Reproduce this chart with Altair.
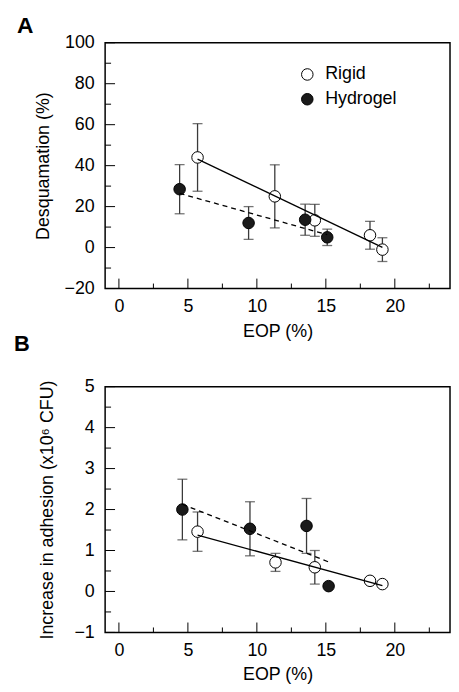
import altair as alt
import pandas as pd

FONT = "Liberation Sans"

# ---------------- data ----------------
groups = ["Rigid", "Hydrogel"]

A_rigid_x = [5.7, 11.3, 14.2, 18.2, 19.1]
A_rigid_y = [44.0, 25.0, 13.3, 6.0, -1.0]
A_rigid_err = [16.5, 15.4, 7.8, 6.8, 5.8]
A_hydro_x = [4.4, 9.4, 13.5, 15.1]
A_hydro_y = [28.5, 12.0, 13.6, 5.0]
A_hydro_err = [12.0, 8.0, 7.6, 4.0]

B_rigid_x = [5.7, 11.35, 14.2, 18.2, 19.1]
B_rigid_y = [1.46, 0.71, 0.59, 0.26, 0.18]
B_rigid_err = [0.48, 0.22, 0.41, 0.0, 0.0]
B_hydro_x = [4.6, 9.5, 13.6, 15.2]
B_hydro_y = [2.0, 1.53, 1.6, 0.13]
B_hydro_err = [0.74, 0.66, 0.67, 0.0]

x_major = [0, 5, 10, 15, 20]
x_minor = [2.5, 7.5, 12.5, 17.5, 22.5]
A_y_major = [-20, 0, 20, 40, 60, 80, 100]
A_y_minor = [-10, 10, 30, 50, 70, 90]
B_y_major = [-1, 0, 1, 2, 3, 4, 5]
B_y_minor = [-0.5, 0.5, 1.5, 2.5, 3.5, 4.5]

W, H = 348, 248
SYM = 135


def frame(rx, ry, re, hx, hy, he):
    rows = []
    for x, y, e in zip(rx, ry, re):
        rows.append({"g": "Rigid", "x": x, "y": y, "lo": y - e, "hi": y + e, "e": e})
    for x, y, e in zip(hx, hy, he):
        rows.append({"g": "Hydrogel", "x": x, "y": y, "lo": y - e, "hi": y + e, "e": e})
    return pd.DataFrame(rows)


def panel(df, ydom, ymaj, ymin, ytitle, ytp, label, lab_xy, lab_fs, legx, legy, legpad,
          xlp, xtp):
    xs = alt.Scale(domain=[-1, 24], nice=False, zero=False, padding=0)
    ys = alt.Scale(domain=ydom, nice=False, zero=False, padding=0)
    base = alt.Chart(df)

    xaxis = alt.Axis(values=x_major, tickSize=0, labelPadding=xlp, title="EOP (%)",
                     titlePadding=xtp, domain=False, grid=False)
    yaxis = alt.Axis(values=ymaj, tickSize=0, labelPadding=11, title=ytitle,
                     titlePadding=ytp, domain=False, grid=False)

    ecol = "#3a3a3a"
    eb = base.transform_filter(alt.datum.e > 0)
    bars = eb.mark_rule(color=ecol, strokeWidth=1.3).encode(
        x=alt.X("x:Q", scale=xs, axis=xaxis), y=alt.Y("lo:Q", scale=ys, axis=yaxis), y2="hi:Q")
    cap_hi = eb.mark_tick(color=ecol, thickness=1.3, size=10, orient="horizontal").encode(
        x=alt.X("x:Q", scale=xs), y=alt.Y("hi:Q", scale=ys))
    cap_lo = eb.mark_tick(color=ecol, thickness=1.3, size=10, orient="horizontal").encode(
        x=alt.X("x:Q", scale=xs), y=alt.Y("lo:Q", scale=ys))

    pts = base.mark_point(filled=False, shape="circle", size=SYM, stroke="black",
                          strokeWidth=1, opacity=1).encode(
        x=alt.X("x:Q", scale=xs), y=alt.Y("y:Q", scale=ys),
        fill=alt.Fill("g:N", scale=alt.Scale(domain=groups, range=["white", "#1a1a1a"]),
                      legend=alt.Legend(title=None, orient="none", legendX=legx, legendY=legy,
                                        labelFontSize=18, labelFont=FONT, labelColor="black",
                                        symbolType="circle", symbolSize=SYM,
                                        symbolStrokeColor="black", symbolStrokeWidth=1,
                                        symbolOpacity=1, rowPadding=legpad, labelOffset=9,
                                        padding=0)))

    reg_r = base.transform_filter(alt.datum.g == "Rigid").transform_regression(
        "x", "y").mark_line(color="black", strokeWidth=1.3).encode(
        x=alt.X("x:Q", scale=xs), y=alt.Y("y:Q", scale=ys))
    reg_h = base.transform_filter(alt.datum.g == "Hydrogel").transform_regression(
        "x", "y").mark_line(color="black", strokeWidth=1.3, strokeDash=[5, 4]).encode(
        x=alt.X("x:Q", scale=xs), y=alt.Y("y:Q", scale=ys))

    xt = pd.DataFrame({"v": x_major})
    xtm = pd.DataFrame({"v": x_minor})
    yt = pd.DataFrame({"v": ymaj})
    ytm = pd.DataFrame({"v": ymin})
    tk = dict(color="black", strokeWidth=1)
    t1 = alt.Chart(xt).mark_rule(**tk).encode(x=alt.X("v:Q", scale=xs), y=alt.value(H), y2=alt.value(H - 10))
    t2 = alt.Chart(xtm).mark_rule(**tk).encode(x=alt.X("v:Q", scale=xs), y=alt.value(H), y2=alt.value(H - 5))
    t3 = alt.Chart(yt).mark_rule(**tk).encode(y=alt.Y("v:Q", scale=ys), x=alt.value(0), x2=alt.value(10))
    t4 = alt.Chart(ytm).mark_rule(**tk).encode(y=alt.Y("v:Q", scale=ys), x=alt.value(0), x2=alt.value(6))

    letter = alt.Chart(pd.DataFrame({"t": [label]})).mark_text(
        align="left", baseline="top", font=FONT, fontSize=lab_fs, fontWeight="bold",
        color="black").encode(text="t:N", x=alt.value(lab_xy[0]), y=alt.value(lab_xy[1]))

    return alt.layer(bars, cap_hi, cap_lo, t1, t2, t3, t4, pts, reg_r, reg_h, letter).properties(
        width=W, height=H)


dfA = frame(A_rigid_x, A_rigid_y, A_rigid_err, A_hydro_x, A_hydro_y, A_hydro_err)
dfB = frame(B_rigid_x, B_rigid_y, B_rigid_err, B_hydro_x, B_hydro_y, B_hydro_err)

pA = panel(dfA, [-20, 100], A_y_major, A_y_minor, "Desquamation (%)", 12, "A", (-89, -28), 23,
           195, 23, 7, 9, 7)
pB = panel(dfB, [-1, 5], B_y_major, B_y_minor, "Increase in adhesion (x10⁶ CFU)", 18, "B",
           (-92, -53), 22, 220, 30, 13, 9, 6)

chart = alt.vconcat(pA, pB, spacing=99, bounds="flush").configure(
    font=FONT, padding={"left": 5, "top": 3, "right": 0, "bottom": 0}
).configure_view(stroke="black", strokeWidth=1.5).configure_axis(
    labelFont=FONT, titleFont=FONT, labelFontSize=18, titleFontSize=18,
    labelColor="black", titleColor="black", titleFontWeight="normal"
).configure_legend(labelFont=FONT)

chart.save("out.html", embed_options={"renderer": "svg", "actions": False})
